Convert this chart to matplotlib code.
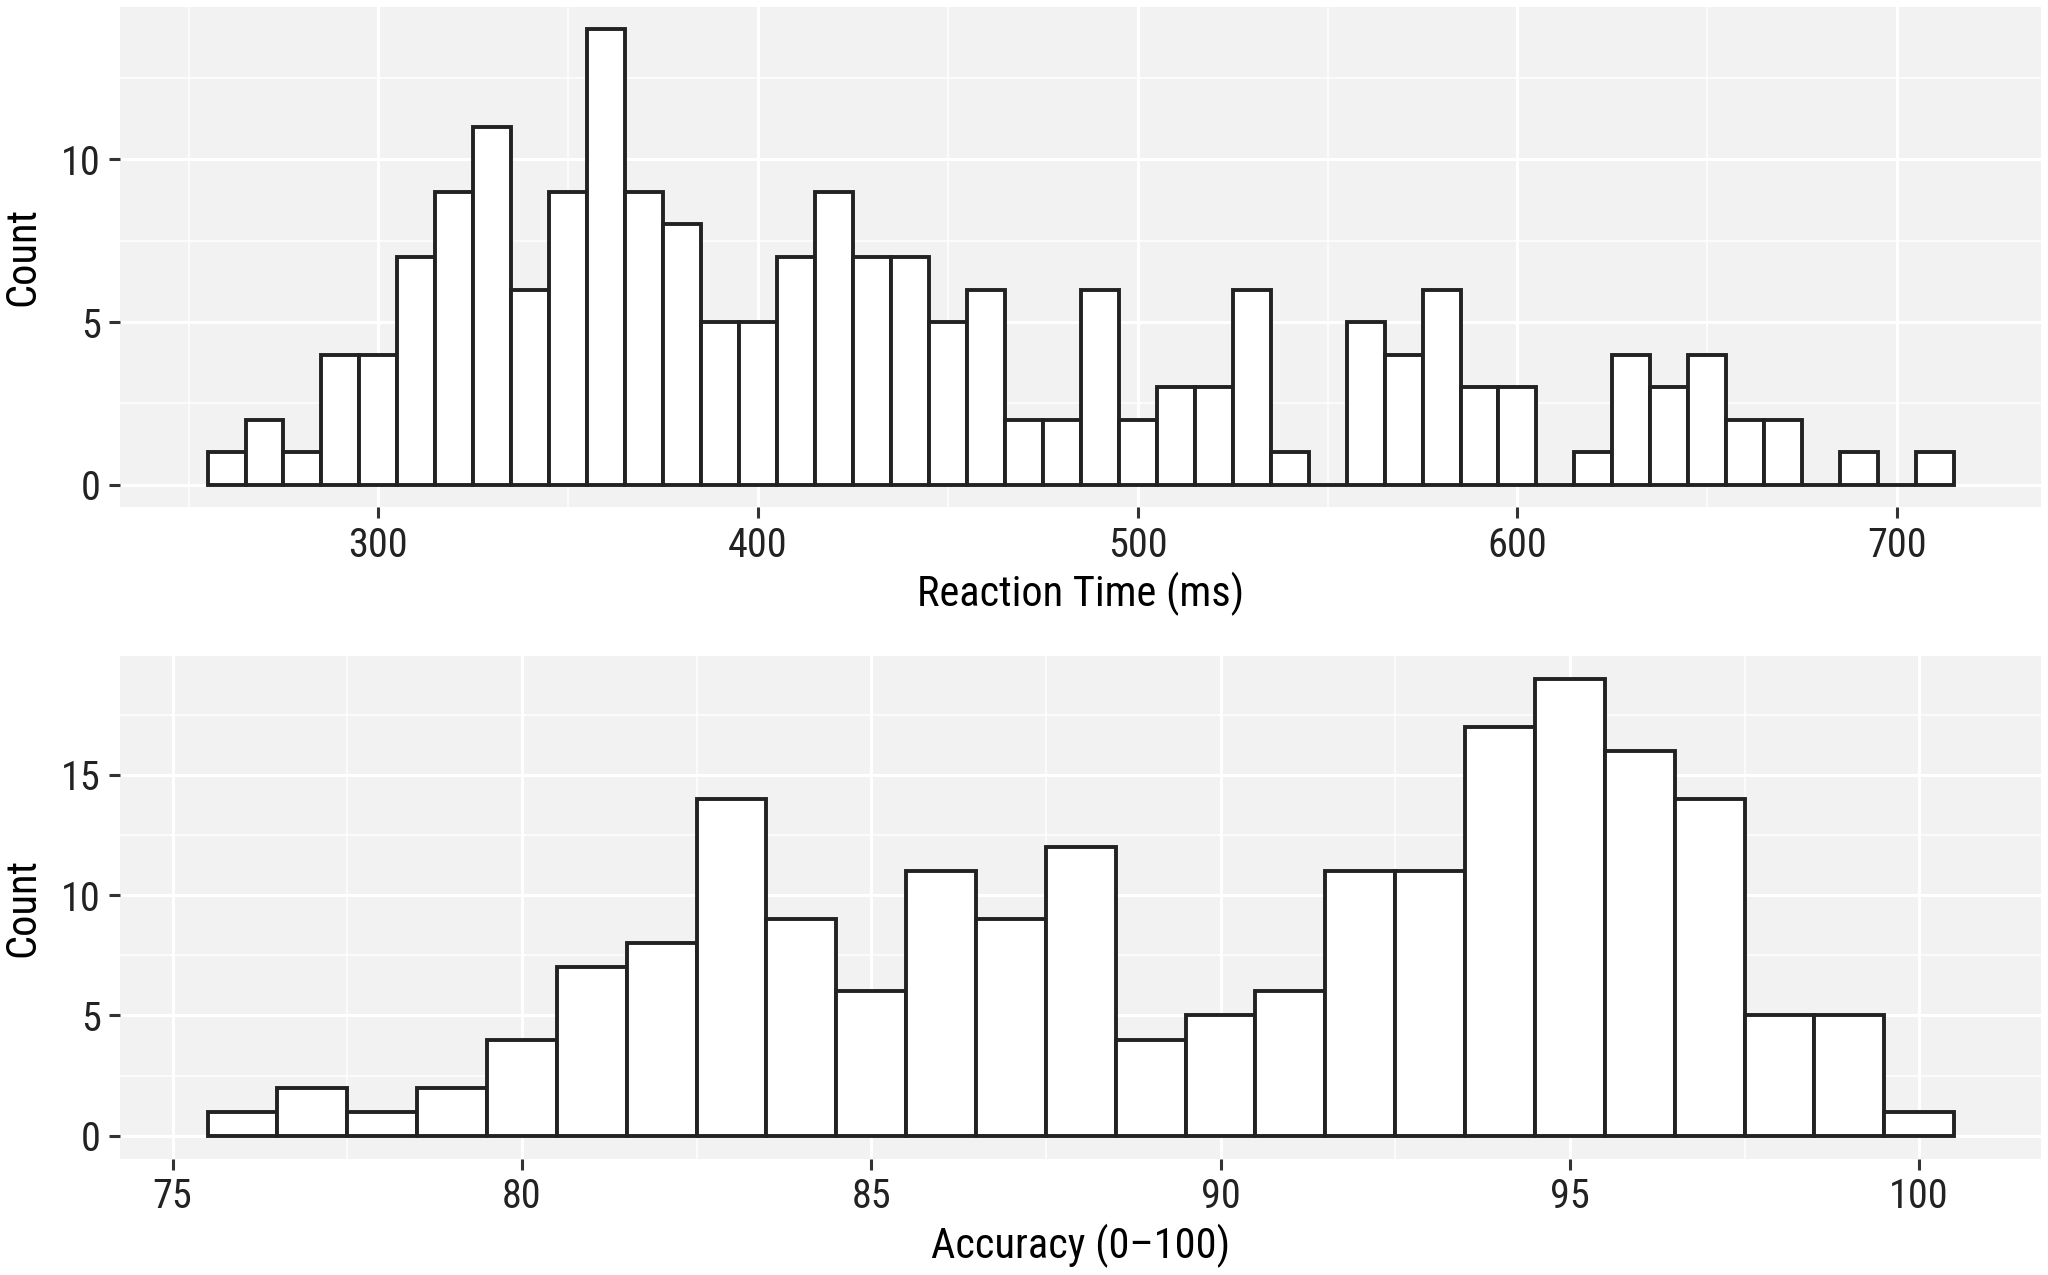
import matplotlib
matplotlib.use("Agg")
import matplotlib.pyplot as plt
from matplotlib.ticker import FixedLocator
from matplotlib import font_manager

# ---------------- data ----------------
rt_bin_centers = [260, 270, 280, 290, 300, 310, 320, 330, 340, 350, 360, 370, 380, 390,
                  400, 410, 420, 430, 440, 450, 460, 470, 480, 490, 500, 510, 520, 530,
                  540, 550, 560, 570, 580, 590, 600, 610, 620, 630, 640, 650, 660, 670,
                  680, 690, 700, 710]
rt_counts = [1, 2, 1, 4, 4, 7, 9, 11, 6, 9, 14, 9, 8, 5,
             5, 7, 9, 7, 7, 5, 6, 2, 2, 6, 2, 3, 3, 6,
             1, 0, 5, 4, 6, 3, 3, 0, 1, 4, 3, 4, 2, 2,
             0, 1, 0, 1]
rt_bin_width = 10

acc_bin_centers = [76, 77, 78, 79, 80, 81, 82, 83, 84, 85, 86, 87, 88, 89, 90,
                   91, 92, 93, 94, 95, 96, 97, 98, 99, 100]
acc_counts = [1, 2, 1, 2, 4, 7, 8, 14, 9, 6, 11, 9, 12, 4, 5,
              6, 11, 11, 17, 19, 16, 14, 5, 5, 1]
acc_bin_width = 1

rt_xticks = [300, 400, 500, 600, 700]
rt_yticks = [0, 5, 10]
acc_xticks = [75, 80, 85, 90, 95, 100]
acc_yticks = [0, 5, 10, 15]

# ---------------- style ----------------
installed = {f.name for f in font_manager.fontManager.ttflist}
preferred = ['Roboto Condensed', 'Liberation Sans Narrow', 'Roboto', 'DejaVu Sans']
FONT = [f for f in preferred if f in installed] or ['DejaVu Sans']
plt.rcParams['font.family'] = FONT

PANEL_BG = '#F2F2F2'
EDGE = '#222222'
TEXT = '#222222'
TICK_FS = 29
LABEL_FS = 30.5

fig = plt.figure(figsize=(20.48, 12.75), dpi=100)

ax1 = fig.add_axes([0.0587, 0.602, 0.9381, 0.3929])
ax2 = fig.add_axes([0.0587, 0.0913, 0.9381, 0.3943])


def style_axis(ax, centers, counts, width, xticks, yticks, xminor, yminor, xlabel, xlim, ylim):
    ax.set_facecolor(PANEL_BG)
    for s in ax.spines.values():
        s.set_visible(False)
    ax.set_axisbelow(True)
    ax.xaxis.set_major_locator(FixedLocator(xticks))
    ax.yaxis.set_major_locator(FixedLocator(yticks))
    ax.xaxis.set_minor_locator(FixedLocator(xminor))
    ax.yaxis.set_minor_locator(FixedLocator(yminor))
    ax.grid(which='major', color='white', linewidth=2.2)
    ax.grid(which='minor', color='white', linewidth=1.1)
    ax.tick_params(which='minor', length=0)
    ax.tick_params(which='major', length=8, width=2.2, color='#333333',
                   labelsize=TICK_FS, labelcolor=TEXT)
    ax.tick_params(axis='x', pad=5)
    ax.tick_params(axis='y', pad=6)
    ax.bar(centers, counts, width=width, color='white', edgecolor=EDGE,
           linewidth=2.8, align='center', zorder=3)
    ax.set_xlim(*xlim)
    ax.set_ylim(*ylim)
    ax.set_xlabel(xlabel, fontsize=LABEL_FS, color='black')
    ax.set_ylabel('Count', fontsize=LABEL_FS, color='black')
    ax.xaxis.label.set_verticalalignment('center')
    ax.yaxis.label.set_verticalalignment('center')


style_axis(ax1, rt_bin_centers, rt_counts, rt_bin_width, rt_xticks, rt_yticks,
           [250, 350, 450, 550, 650], [2.5, 7.5, 12.5],
           'Reaction Time (ms)', (232, 738), (-0.7, 14.7))
ax1.xaxis.set_label_coords(0.5, -0.172)
ax1.yaxis.set_label_coords(-0.0505, 0.5)

style_axis(ax2, acc_bin_centers, acc_counts, acc_bin_width, acc_xticks, acc_yticks,
           [77.5, 82.5, 87.5, 92.5, 97.5], [2.5, 7.5, 12.5, 17.5],
           'Accuracy (0–100)', (74.25, 101.75), (-0.95, 19.95))
ax2.xaxis.set_label_coords(0.5, -0.174)
ax2.yaxis.set_label_coords(-0.0505, 0.5)

fig.savefig('out.png', dpi=100, facecolor='white')
